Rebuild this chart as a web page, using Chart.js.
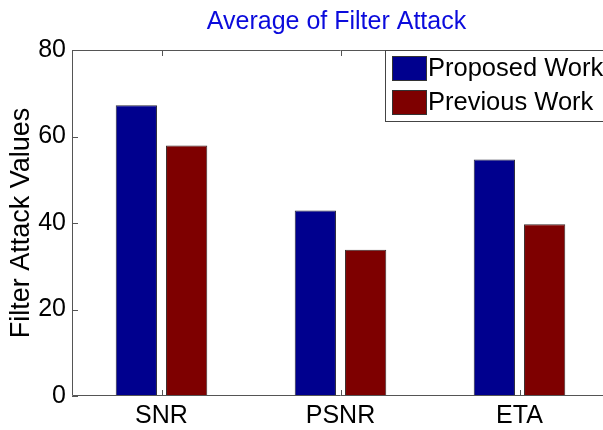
<!DOCTYPE html>
<html>
<head>
<meta charset="utf-8">
<script src="https://cdn.jsdelivr.net/npm/chart.js@4/dist/chart.umd.min.js"></script>
<style>
html, body { margin: 0; padding: 0; overflow: hidden; background: #fff; width: 603px; height: 430px; }
#wrap { width: 603px; height: 430px; overflow: hidden; position: relative; }
#c { display: block; }
</style>
</head>
<body>
<div id="wrap"><canvas id="c" width="625" height="430"></canvas></div>
<script>
const categories = ['SNR', 'PSNR', 'ETA'];
const proposedWork = [67.2, 42.9, 54.7];
const previousWork = [57.9, 33.8, 39.7];
const yTicks = [0, 20, 40, 60, 80];
const seriesNames = ['Proposed Work', 'Previous Work'];
const chartTitle = 'Average of Filter Attack';
const yTitle = 'Filter Attack Values';

const FONT = '"Liberation Sans", Arial, Helvetica, sans-serif';

const framePlugin = {
  id: 'frame',
  afterDatasetsDraw(chart) {
    const ctx = chart.ctx;
    const a = chart.chartArea;
    const xs = chart.scales.x, ys = chart.scales.y;
    ctx.save();
    ctx.strokeStyle = '#555';
    ctx.lineWidth = 1;
    // frame
    ctx.beginPath();
    ctx.moveTo(a.left + 0.5, a.top + 0.5);
    ctx.lineTo(a.right - 0.5, a.top + 0.5);
    ctx.lineTo(a.right - 0.5, a.bottom - 0.5);
    ctx.lineTo(a.left + 0.5, a.bottom - 0.5);
    ctx.closePath();
    ctx.stroke();
    // inward ticks
    const tl = 6;
    ctx.beginPath();
    for (let i = 0; i < categories.length; i++) {
      const px = Math.round(xs.getPixelForValue(i)) + 0.5;
      ctx.moveTo(px, a.bottom); ctx.lineTo(px, a.bottom - tl);
      ctx.moveTo(px, a.top); ctx.lineTo(px, a.top + tl);
    }
    yTicks.forEach(v => {
      const py = Math.round(ys.getPixelForValue(v)) + 0.5;
      ctx.moveTo(a.left, py); ctx.lineTo(a.left + tl, py);
      ctx.moveTo(a.right, py); ctx.lineTo(a.right - tl, py);
    });
    ctx.stroke();

    // title
    ctx.fillStyle = '#0b0bdc';
    ctx.font = '25px ' + FONT;
    ctx.textAlign = 'center';
    ctx.textBaseline = 'middle';
    ctx.fillText(chartTitle, (a.left + a.right) / 2 - 4, 22);

    // legend box
    const lx = a.right - 224, ly = a.top;
    const lw = 260, lh = 71;
    ctx.fillStyle = '#fff';
    ctx.fillRect(lx, ly, lw, lh);
    ctx.strokeStyle = '#444';
    ctx.strokeRect(lx + 0.5, ly + 0.5, lw, lh);
    chart.data.datasets.forEach((ds, i) => {
      const sy = ly + 6 + i * 34;
      ctx.fillStyle = ds.backgroundColor;
      ctx.fillRect(lx + 7, sy, 35, 25);
      ctx.strokeStyle = '#333';
      ctx.strokeRect(lx + 7.5, sy + 0.5, 34, 24);
      ctx.fillStyle = '#000';
      ctx.font = '25.5px ' + FONT;
      ctx.textAlign = 'left';
      ctx.textBaseline = 'middle';
      ctx.fillText(ds.label, lx + 43, sy + 13);
    });
    ctx.restore();
  }
};

new Chart(document.getElementById('c'), {
  type: 'bar',
  data: {
    labels: categories,
    datasets: [
      { label: seriesNames[0], data: proposedWork, backgroundColor: '#00008e', borderColor: '#2a2a3a', borderWidth: 1 },
      { label: seriesNames[1], data: previousWork, backgroundColor: '#7e0000', borderColor: '#3a2a2a', borderWidth: 1 }
    ]
  },
  options: {
    responsive: false,
    animation: false,
    events: [],
    devicePixelRatio: 1,
    categoryPercentage: 0.562,
    barPercentage: 0.82,
    layout: { padding: { left: 0, top: 50, right: 16, bottom: 0 } },
    plugins: {
      legend: { display: false },
      title: { display: false },
      tooltip: { enabled: false }
    },
    scales: {
      x: {
        grid: { display: false, drawTicks: false },
        border: { display: false },
        ticks: { color: '#000', font: { family: FONT, size: 25 }, padding: 5, maxRotation: 0 },
        afterFit(scale) { scale.height = 34; }
      },
      y: {
        min: 0, max: 80,
        afterBuildTicks(scale) { scale.ticks = yTicks.map(v => ({ value: v })); },
        grid: { display: false, drawTicks: false },
        border: { display: false },
        ticks: { color: '#000', font: { family: FONT, size: 25 }, padding: 6 },
        title: { display: true, text: yTitle, color: '#000', font: { family: FONT, size: 27 }, padding: { top: 5, bottom: 0 } },
        afterFit(scale) { scale.width = 72; }
      }
    }
  },
  plugins: [framePlugin]
});
</script>
</body>
</html>
